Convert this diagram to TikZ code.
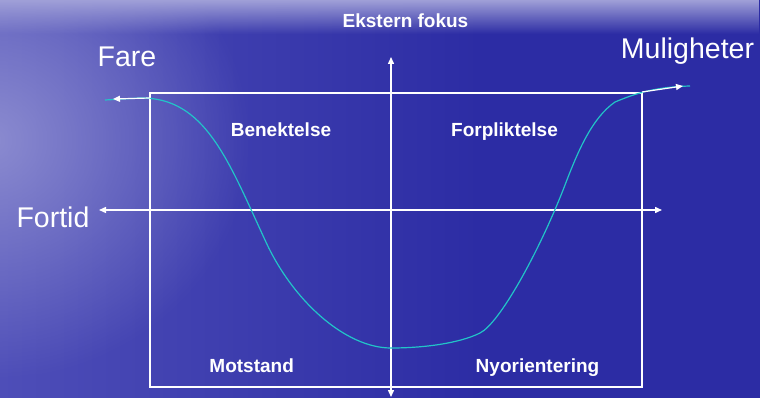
\documentclass[tikz,border=0pt]{standalone}
\usepackage{fontspec}
\setmainfont{Liberation Sans}
\usetikzlibrary{arrows.meta,fadings}
\definecolor{bgdark}{HTML}{2C2CA4}
\definecolor{bgmid}{HTML}{4E4EB8}
\definecolor{bglight}{HTML}{A0A0D8}
\definecolor{curvecol}{HTML}{22C4C8}
\tikzfading[name=glowfade, inner color=transparent!25, outer color=transparent!100]
\tikzfading[name=topfade, top color=transparent!0, bottom color=transparent!100]
\tikzset{
  axisline/.style={draw=white, line width=1.4pt, {Triangle[length=7pt,width=6pt]}-{Triangle[length=7pt,width=6pt]}},
  frameline/.style={draw=white, line width=1.6pt},
  curveline/.style={draw=curvecol, line width=1.2pt},
  endarrow/.style={draw=white, line width=1.2pt, -{Triangle[length=7pt,width=6pt]}},
  quadlabel/.style={text=white, font=\fontsize{19}{22}\selectfont\bfseries, anchor=base, inner sep=0pt},
  biglabel/.style={text=white, font=\fontsize{28.5}{32}\selectfont, anchor=base, inner sep=0pt},
}
\begin{document}
\begin{tikzpicture}[x=1pt,y=-1pt]
% background
\useasboundingbox (0,0) rectangle (760,398);
\fill[bgdark] (0,0) rectangle (760,398);
\shade[left color=bgmid, right color=bgdark] (0,0) rectangle (480,398);
\fill[bglight, path fading=glowfade] (-10,140) ellipse (260 and 240);
\fill[bglight, path fading=topfade] (0,0) rectangle (760,34);
% frame
\node[frameline, draw, minimum width=492pt, minimum height=294pt, inner sep=0pt, anchor=north west] (frame) at (149,92) {};
% axes
\coordinate (xl) at (99,210);
\coordinate (xr) at (662,210);
\coordinate (yt) at (391,57);
\coordinate (yb) at (391,397);
\draw[axisline] (xl) -- (xr);
\draw[axisline] (yb) -- (yt);
% curve
\coordinate (cl) at (150,98);
\coordinate (cla) at (113,99);
\coordinate (cr) at (642,92);
\coordinate (cra) at (683,86);
\draw[curveline] (105,100) -- (140,98)
  .. controls (205,97) and (228,160) .. (265,240)
  .. controls (292,300) and (345,348) .. (391,348)
  .. controls (425,348) and (460,343) .. (480,333)
  .. controls (500,323) and (540,250) .. (565,185)
  .. controls (578,151) and (592,118) .. (615,102)
  .. controls (630,96) and (650,87) .. (690,86);
\draw[endarrow] (cl) -- (cla);
\draw[endarrow] (cr) -- (cra);
% labels
\node[quadlabel] (ek) at (405.5,28) {Ekstern fokus};
\node[quadlabel] (ben) at (281,137) {Benektelse};
\node[quadlabel] (forp) at (504.5,137) {Forpliktelse};
\node[quadlabel] (mot) at (251.7,372) {Motstand};
\node[quadlabel] (nyo) at (537.5,372) {Nyorientering};
\node[biglabel] (fare) at (127,67) {Fare};
\node[biglabel] (mul) at (687.5,59) {Muligheter};
\node[biglabel] (fort) at (53,227) {Fortid};
\end{tikzpicture}
\end{document}
